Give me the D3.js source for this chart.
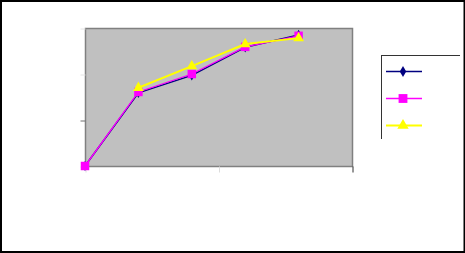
<!DOCTYPE html>
<html>
<head>
<meta charset="utf-8">
<script src="https://cdn.jsdelivr.net/npm/d3@7"></script>
<style>
  body { margin: 0; background: #fff; }
  svg { display: block; }
</style>
</head>
<body>
<script>
var width = 465;
var height = 253;

// plot area
var plot = { left: 85, top: 28, right: 352, bottom: 166 };

// data
var xValues = [0, 1, 2, 3, 4];
var navyValues = [0, 1.59, 1.97, 2.58, 2.85];
var pinkValues = [0, 1.61, 2.0, 2.59, 2.83];
var yellowValues = [null, 1.70, 2.17, 2.65, 2.78];
var xTicks = [0, 2.5, 5];
var yTicks = [0, 1, 2, 3];

var series = [
  { name: "navy", values: navyValues, color: "#000080", symbol: d3.symbolDiamond, size: 30, lw: 1.5 },
  { name: "pink", values: pinkValues, color: "#FF00FF", symbol: d3.symbolSquare, size: 72, lw: 1.3 },
  { name: "yellow", values: yellowValues, color: "#FFFF00", symbol: d3.symbolTriangle, size: 50, lw: 2 }
];

var xScale = d3.scaleLinear().domain([0, 5]).range([plot.left, plot.right]);
var yScale = d3.scaleLinear().domain([0, 3]).range([plot.bottom, plot.top]);

var svg = d3.select("body")
  .append("svg")
  .attr("width", width)
  .attr("height", height);

// outer frame
svg.append("rect")
  .attr("x", 1).attr("y", 1)
  .attr("width", width - 1.5).attr("height", height - 2)
  .attr("fill", "#fff")
  .attr("stroke", "#000")
  .attr("stroke-width", 2);

// plot background
svg.append("rect")
  .attr("x", plot.left + 0.5).attr("y", plot.top + 0.5)
  .attr("width", plot.right - plot.left).attr("height", plot.bottom - plot.top)
  .attr("fill", "#C0C0C0")
  .attr("stroke", "#808080")
  .attr("stroke-width", 1.5);

// axes (no labels in the original)
var yAxis = d3.axisLeft(yScale).tickValues(yTicks).tickSize(5).tickFormat("");
var xAxis = d3.axisBottom(xScale).tickValues(xTicks).tickSize(6).tickFormat("");

var yTickColor = function(d) { return d == 1 ? "#707070" : "#e4e4e4"; };
var xTickColor = function(d) { return d == 5 ? "#303030" : "#dcdcdc"; };

var gy = svg.append("g")
  .attr("transform", "translate(" + (plot.left + 0.5) + ",0.5)")
  .call(yAxis);
gy.select(".domain").remove();
gy.selectAll(".tick line").attr("stroke", yTickColor);

var gx = svg.append("g")
  .attr("transform", "translate(0," + (plot.bottom + 0.5) + ")")
  .call(xAxis);
gx.select(".domain").remove();
gx.selectAll(".tick line").attr("stroke", xTickColor).attr("transform", "translate(0.5,0)");

// lines and markers
var line = d3.line()
  .defined(function(d) { return d[1] != null; })
  .x(function(d) { return xScale(d[0]); })
  .y(function(d) { return yScale(d[1]); });

series.forEach(function(s) {
  var pts = xValues.map(function(x, i) { return [x, s.values[i]]; });

  svg.append("path")
    .datum(pts)
    .attr("fill", "none")
    .attr("stroke", s.color)
    .attr("stroke-width", s.lw)
    .attr("d", line);

  svg.append("g")
    .selectAll("path")
    .data(pts.filter(function(d) { return d[1] != null; }))
    .enter()
    .append("path")
    .attr("d", d3.symbol().type(s.symbol).size(s.size))
    .attr("transform", function(d) {
      return "translate(" + xScale(d[0]) + "," + yScale(d[1]) + ")";
    })
    .attr("fill", s.color);
});

// legend (only top and left edges are visible)
var legend = { x: 381, y: 55, w: 79, h: 84 };
svg.append("line")
  .attr("x1", legend.x).attr("y1", legend.y + 0.5)
  .attr("x2", legend.x + legend.w).attr("y2", legend.y + 0.5)
  .attr("stroke", "#333");
svg.append("line")
  .attr("x1", legend.x + 0.5).attr("y1", legend.y)
  .attr("x2", legend.x + 0.5).attr("y2", legend.y + legend.h)
  .attr("stroke", "#333");

var legendRows = d3.scaleBand()
  .domain(series.map(function(s) { return s.name; }))
  .range([legend.y + 3, legend.y + legend.h]);

var items = svg.append("g")
  .selectAll("g")
  .data(series)
  .enter()
  .append("g")
  .attr("transform", function(s) {
    return "translate(0," + (legendRows(s.name) + legendRows.bandwidth() / 2) + ")";
  });

items.append("line")
  .attr("x1", 386).attr("x2", 422)
  .attr("stroke", function(s) { return s.color; })
  .attr("stroke-width", function(s) { return s.lw; });

items.append("path")
  .attr("d", function(s) { return d3.symbol().type(s.symbol).size(s.size + 6)(); })
  .attr("transform", "translate(403,0)")
  .attr("fill", function(s) { return s.color; });
</script>
</body>
</html>
